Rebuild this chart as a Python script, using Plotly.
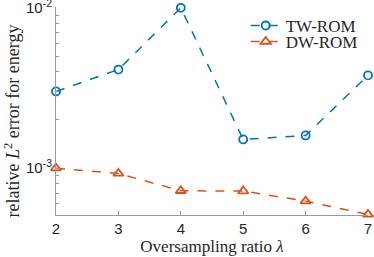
import plotly.graph_objects as go

ratios = [2, 3, 4, 5, 6, 7]
tw_rom = [3.01e-3, 4.12e-3, 1.0e-2, 1.51e-3, 1.60e-3, 3.79e-3]
dw_rom = [1.0e-3, 9.27e-4, 7.23e-4, 7.2e-4, 6.23e-4, 5.15e-4]
y_tickvals = [1e-3, 1e-2]
y_ticktext = ["10<sup>-3</sup>", "10<sup>-2</sup>"]
x_ticks = [2, 3, 4, 5, 6, 7]
y_title = "relative <i>L</i><sup>2</sup> error for energy"
x_title = "Oversampling ratio <i>λ</i>"

sans = "Liberation Sans, Arial, sans-serif"
serif = "Liberation Serif, Times New Roman, serif"
axis_gray = "#9a9a9a"
text_col = "#262626"

fig = go.Figure()
fig.add_trace(go.Scatter(
    x=ratios, y=tw_rom, mode="lines+markers", name="TW-ROM", legend="legend",
    line=dict(color="#0072BD", width=1.5, dash="dash"),
    marker=dict(symbol="circle-open", size=8, color="#0072BD", line=dict(width=1.8)),
    cliponaxis=False,
))
fig.add_trace(go.Scatter(
    x=ratios, y=dw_rom, mode="lines+markers", name="DW-ROM", legend="legend2",
    line=dict(color="#D95319", width=1.5, dash="dash"),
    marker=dict(symbol="triangle-up-open", size=9, color="#D95319", line=dict(width=1.8)),
    cliponaxis=False,
))

leg_common = dict(x=0.608, xanchor="left", yanchor="middle",
                  bgcolor="rgba(0,0,0,0)", font=dict(family=serif, size=17, color=text_col),
                  itemwidth=30)

fig.update_layout(
    width=374, height=257,
    margin=dict(l=56, r=6, t=7, b=42),
    plot_bgcolor="white", paper_bgcolor="white",
    showlegend=True,
    legend=dict(y=0.909, **leg_common),
    legend2=dict(y=0.832, **leg_common),
    xaxis=dict(
        range=[2, 7], tickvals=x_ticks, ticks="inside", ticklen=4,
        showline=True, linecolor=axis_gray, linewidth=1, tickcolor=axis_gray,
        showgrid=False, zeroline=False, automargin=False, ticklabeloverflow="allow",
        tickfont=dict(family=sans, size=15, color=text_col),
        title=dict(text=x_title, font=dict(family=serif, size=17, color=text_col), standoff=4),
    ),
    yaxis=dict(
        type="log", range=[-3.292, -1.995],
        tickvals=y_tickvals, ticktext=y_ticktext,
        ticks="inside", ticklen=4,
        showline=True, linecolor=axis_gray, linewidth=1, tickcolor=axis_gray,
        showgrid=False, zeroline=False, automargin=False, ticklabeloverflow="allow",
        minor=dict(ticks="inside", ticklen=2.5, tickcolor=axis_gray, dtick="D1", showgrid=False),
        tickfont=dict(family=sans, size=15, color=text_col),
    ),
    annotations=[dict(
        text=y_title, textangle=-90, showarrow=False,
        xref="paper", yref="paper", x=-0.141, y=0.45,
        xanchor="center", yanchor="middle",
        font=dict(family=serif, size=18, color=text_col),
    )],
)

fig.write_html("out.html", post_script="document.body.style.margin='0';",
               config={"displayModeBar": False})
